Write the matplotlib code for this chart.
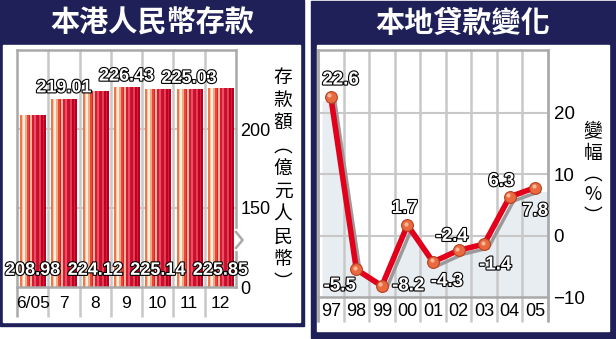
import numpy as np
import matplotlib
matplotlib.use('Agg')
import matplotlib.pyplot as plt
import matplotlib.patheffects as pe
import matplotlib.transforms as mtransforms
from matplotlib.patches import Rectangle
from matplotlib.colors import ListedColormap

# data
months = ['6/05', '7', '8', '9', '10', '11', '12']
deposits = [208.98, 219.01, 224.12, 226.43, 225.14, 225.03, 225.85]
years = ['97', '98', '99', '00', '01', '02', '03', '04', '05']
loan_change = [22.6, -5.5, -8.2, 1.7, -4.3, -2.4, -1.4, 6.3, 7.8]
# where each line label sits relative to its point (points)
loan_label_offsets = [(7, 12), (-12, -12), (19, 0), (-2, 12), (10, -14),
                      (-5, 10), (8, -15), (-6, 11), (0, -17)]

W, H = 616, 339
NAVY = '#1f2058'
FRAME = '#a9a9a9'
GRID = '#c8c8c8'
CJK = ['Noto Sans CJK TC', 'DejaVu Sans']
NUM = ['Liberation Sans', 'DejaVu Sans']

fig = plt.figure(figsize=(W / 100, H / 100), dpi=100)


def px_axes(x0, y0, x1, y1):
    return fig.add_axes([x0 / W, 1 - y1 / H, (x1 - x0) / W, (y1 - y0) / H])


outline = [pe.Stroke(linewidth=1.6, foreground='black'), pe.Normal()]

# panels / title bands
bg = fig.add_axes([0, 0, 1, 1], zorder=-10)
bg.set_xlim(0, W)
bg.set_ylim(H, 0)
bg.axis('off')
bg.add_patch(Rectangle((0, 0), 304, 326, color=NAVY))
bg.add_patch(Rectangle((3, 45), 297, 277, color='white'))
bg.add_patch(Rectangle((311, 1), 305, 337, color=NAVY))
bg.add_patch(Rectangle((317, 45), 292, 286, color='white'))
bg.text(152, 23, '本港人民幣存款', color='white', fontsize=21, fontweight='heavy',
        family=CJK, ha='center', va='center')
bg.text(463, 23, '本地貸款變化', color='white', fontsize=21, fontweight='heavy',
        family=CJK, ha='center', va='center')

# vertical axis titles
for i, ch in enumerate('存款額︵億元人民幣︶'):
    bg.text(283, 78 + i * 22.7, ch, fontsize=13.5, family=CJK, ha='center', va='center')
for i, ch in enumerate('變幅︵%︶'):
    bg.text(593, 132 + i * 21, ch, fontsize=13.5, family=CJK, ha='center', va='center')

# ---------- left: deposits bar chart ----------
ax1 = px_axes(17, 50, 236, 287)
x1 = np.arange(len(months))
base = 100
stripe_colors = ['#f07848', '#f8c4a4', '#fff0e6', '#f6a87e', '#e84838', '#e0203a',
                 '#f8b89a', '#d81832', '#e8506a', '#d6102a', '#c8102a', '#e04058',
                 '#c00020', '#d4203e', '#b8001c']
stripes = ListedColormap(stripe_colors)
grad = np.arange(len(stripe_colors)).reshape(1, -1)

bars = ax1.bar(x1, np.array(deposits) - base, bottom=base, width=0.8,
               facecolor='none', edgecolor='none', zorder=2)
for b in bars:
    im = ax1.imshow(grad, cmap=stripes, aspect='auto', interpolation='nearest',
                    extent=[b.get_x(), b.get_x() + b.get_width(), base, b.get_y() + b.get_height()],
                    zorder=2)
    im.set_clip_path(b)

ax1.set_xlim(-0.5, len(months) - 0.5)
ax1.set_ylim(base, 250)
for v in (150, 200):
    ax1.axhline(v, color=GRID, lw=1.5, zorder=1)
xt = ax1.get_xaxis_transform()
ax1.vlines(x1[:-1] + 0.5, -30 / 237, 1, transform=xt, color=GRID, lw=1.8,
           clip_on=False, zorder=1)
ax1.vlines([-0.5], -30 / 237, 0, transform=xt, color=FRAME, lw=1.8, clip_on=False)
for s in ax1.spines.values():
    s.set_color(FRAME)
    s.set_linewidth(1.8)
ax1.set_xticks([])
ax1.yaxis.tick_right()
ax1.set_yticks([base, 150, 200], ['0', '150', '200'])
ax1.tick_params(axis='y', length=0, pad=3, labelsize=13)
for t in ax1.get_yticklabels():
    t.set_family(NUM)
for i, m in enumerate(months):
    ax1.text(i, -16 / 237, m, transform=xt, ha='center', va='center',
             fontsize=12.5, family=NUM)

# axis break mark on the right edge
ax1.plot([1, 1], [0.16, 0.235], transform=ax1.transAxes, color='white', lw=3,
         clip_on=False, zorder=5)
ax1.plot([1, 1.03, 1], [0.165, 0.198, 0.232], transform=ax1.transAxes, color=FRAME,
         lw=1.8, clip_on=False, zorder=6)

for i, v in enumerate(deposits):
    if i % 2:
        t = ax1.annotate(f'{v:.2f}', (i, v), xytext=(0, 8), textcoords='offset points',
                         ha='center', va='center', fontsize=13, fontweight='bold',
                         color='white', family=NUM, zorder=7)
    else:
        t = ax1.annotate(f'{v:.2f}', (i, base), xytext=(0, 12), textcoords='offset points',
                         ha='center', va='center', fontsize=13, fontweight='bold',
                         color='white', family=NUM, zorder=7)
    t.set_path_effects(outline)

# ---------- right: loan change line chart ----------
ax2 = px_axes(318, 50, 548, 297)
x2 = np.arange(len(years))
ax2.set_xlim(-0.5, len(years) - 0.5)
ax2.set_ylim(-10, 30.2)

shadow = mtransforms.offset_copy(ax2.transData, fig, x=4, y=-4, units='dots')
fx = np.concatenate([[-0.5], x2, [len(years) - 0.5]])
fy = np.concatenate([[loan_change[0]], loan_change, [loan_change[-1]]])
ax2.fill_between(fx, fy, -20, transform=shadow, color='#e8edf2', lw=0, zorder=0.5)
for v in (0, 10, 20):
    ax2.axhline(v, color=GRID, lw=1.5, zorder=1)
xt2 = ax2.get_xaxis_transform()
ax2.vlines(np.append(x2 + 0.5, -0.5), -25 / 247, 1, transform=xt2, color=GRID, lw=1.8,
           clip_on=False, zorder=1)
ax2.vlines([-0.5, len(years) - 0.5], -25 / 247, 0, transform=xt2, color=FRAME, lw=1.8,
           clip_on=False)
for s in ax2.spines.values():
    s.set_color(FRAME)
    s.set_linewidth(1.8)

ax2.plot(x2, loan_change, color='#9a9a9a', lw=2.5, transform=shadow, zorder=2)
ax2.plot(x2, loan_change, color='#e2001a', lw=4, zorder=3)
ax2.plot(x2, loan_change, 'o', ms=8.5, mfc='#ea6a40', mec='#b8401f', mew=0.8, zorder=4)
hl = mtransforms.offset_copy(ax2.transData, fig, x=-1.5, y=1.5, units='dots')
ax2.plot(x2, loan_change, 'o', ms=3, mfc='#f8b898', mec='none', transform=hl, zorder=5)

ax2.set_xticks([])
ax2.yaxis.tick_right()
ax2.set_yticks([-10, 0, 10, 20])
ax2.tick_params(axis='y', length=0, pad=4, labelsize=13.5)
for t in ax2.get_yticklabels():
    t.set_family(NUM)
for i, y in enumerate(years):
    ax2.text(i, -15 / 247, y, transform=xt2, ha='center', va='center',
             fontsize=13, family=NUM)

for i, v in enumerate(loan_change):
    t = ax2.annotate(f'{v:.1f}', (i, v), xytext=loan_label_offsets[i],
                     textcoords='offset points', ha='center', va='center',
                     fontsize=13.5, fontweight='bold', color='white', family=NUM, zorder=8)
    t.set_path_effects(outline)

fig.savefig('out.png', dpi=100)
